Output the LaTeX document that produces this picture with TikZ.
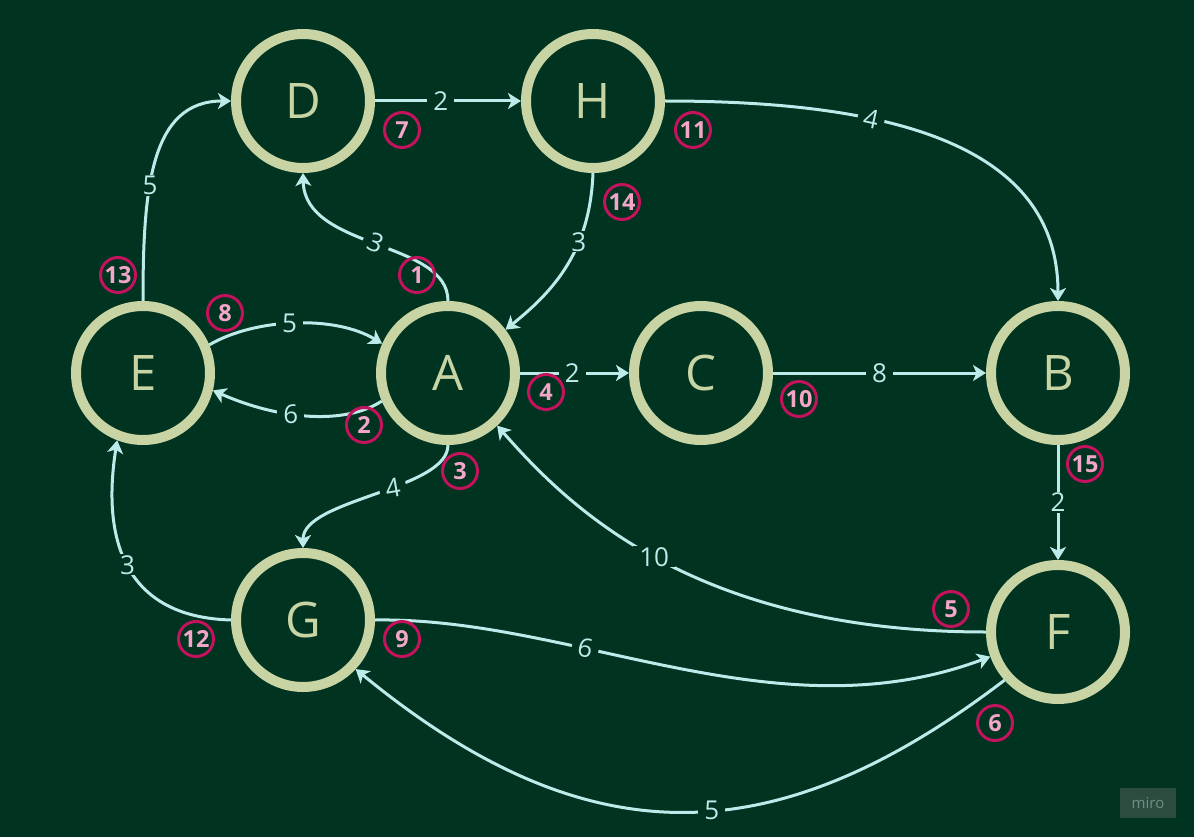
\documentclass[tikz,border=0pt]{standalone}
\usepackage{fontspec}
\setmainfont{Open Sans}
\usetikzlibrary{arrows.meta}
\definecolor{bg}{HTML}{013321}
\definecolor{ring}{HTML}{C8D4A3}
\definecolor{wire}{HTML}{BDEBEA}
\definecolor{badgeRed}{HTML}{C3135C}
\definecolor{badgePink}{HTML}{F4A6C8}
\definecolor{miroBg}{HTML}{2B4C3F}
\definecolor{miroText}{HTML}{6F8F84}
\tikzset{
  vtx/.style={circle, draw=ring, line width=10pt, minimum size=134pt, inner sep=0pt,
    text=ring, font=\fontsize{49}{49}\selectfont},
  conn/.style={draw=wire, line width=3pt, -{Stealth[length=13pt,width=16pt,inset=3.5pt]}},
  wlabel/.style={fill=bg, text=wire, inner xsep=6pt, inner ysep=1pt,
    font=\fontsize{26}{26}\selectfont},
  badge/.style={circle, draw=badgeRed, line width=3pt, minimum size=35pt, inner sep=0pt,
    text=badgePink, font=\fontsize{23.5}{23.5}\selectfont\bfseries},
}
\begin{document}
\begin{tikzpicture}[x=1pt,y=-1pt]
\fill[bg] (0,0) rectangle (1194,837);
\useasboundingbox (0,0) rectangle (1194,837);

% vertices
\node[vtx] (D) at (303,101) {D};
\node[vtx] (H) at (593,101) {H};
\node[vtx] (E) at (143,373) {E};
\node[vtx] (A) at (448,373) {A};
\node[vtx] (C) at (701,373) {C};
\node[vtx] (B) at (1058,373) {B};
\node[vtx] (G) at (303,620) {G};
\node[vtx] (F) at (1058,632) {F};

% edges
\draw[conn] (D.east) -- node[wlabel, pos=0.45] (lDH) {2} (H.west);
\draw[conn] (H.east) .. controls (880,101) and (1058,140) .. node[wlabel, pos=0.35, sloped] (lHB) {4} (B.north);
\draw[conn] (H.south) .. controls (590,250) and (555,290) .. node[wlabel, pos=0.35] (lHA) {3} (A.37);
\draw[conn] (A.north) .. controls (448,240) and (305,250) .. node[wlabel, pos=0.5, sloped] (lAD) {3} (D.south);
\draw[conn] (E.north) .. controls (143,190) and (150,101) .. node[wlabel, pos=0.39] (lED) {5} (D.west);
\draw[conn] (E.23) .. controls (255,318) and (335,315) .. node[wlabel, pos=0.47] (lEA) {5} (A.156);
\draw[conn] (A.203) .. controls (345,425) and (280,420) .. node[wlabel, pos=0.6] (lAE) {6} (E.-14);
\draw[conn] (A.east) -- node[wlabel, pos=0.48] (lAC) {2} (C.west);
\draw[conn] (C.east) -- node[wlabel, pos=0.5] (lCB) {8} (B.west);
\draw[conn] (B.south) -- node[wlabel, pos=0.5] (lBF) {2} (F.north);
\draw[conn] (F.west) .. controls (687,632) and (563,500) .. node[wlabel, pos=0.5] (lFA) {10} (A.-47);
\draw[conn] (A.south) .. controls (448,490) and (303,499) .. node[wlabel, pos=0.42, rotate=10] (lAG) {4} (G.north);
\draw[conn] (G.west) .. controls (122,617) and (102,536) .. node[wlabel, pos=0.5] (lGE) {3} (E.-111);
\draw[conn] (G.east) .. controls (574,617) and (775,737) .. node[wlabel, pos=0.35, sloped] (lGF) {6} (F.200);
\draw[conn] (F.222) .. controls (774,856) and (587,859) .. node[wlabel, pos=0.45] (lFG) {5} (G.-43);

% order badges
\node[badge] (b1) at (417,275) {1};
\node[badge] (b2) at (364,425) {2};
\node[badge] (b3) at (460,471) {3};
\node[badge] (b4) at (546,392) {4};
\node[badge] (b5) at (951,609) {5};
\node[badge] (b6) at (995,723) {6};
\node[badge] (b7) at (402,130) {7};
\node[badge] (b8) at (225,313) {8};
\node[badge] (b9) at (402,639) {9};
\node[badge] (b10) at (799,399) {10};
\node[badge] (b11) at (693,130) {11};
\node[badge] (b12) at (196,639) {12};
\node[badge] (b13) at (118,275) {13};
\node[badge] (b14) at (622,202) {14};
\node[badge] (b15) at (1085,464) {15};

% watermark
\node[fill=miroBg, minimum width=56pt, minimum height=30pt, inner sep=0pt, text=miroText,
  font=\fontsize{15}{15}\selectfont] (miro) at (1148,803) {miro};
\end{tikzpicture}
\end{document}
